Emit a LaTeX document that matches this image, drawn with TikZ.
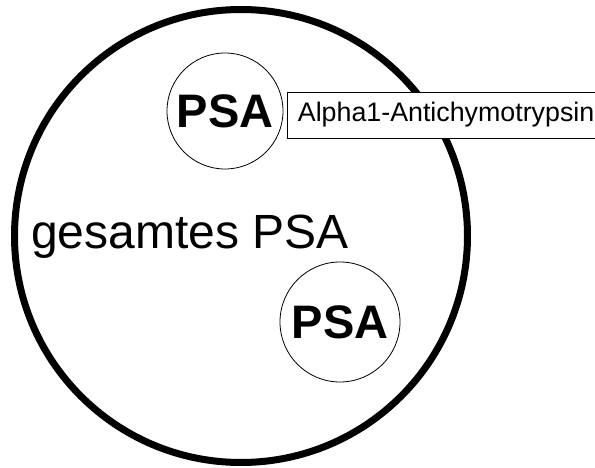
\documentclass[tikz,border=0pt]{standalone}
\usepackage{fontspec}
\setmainfont{Liberation Sans}
\begin{document}
\begin{tikzpicture}[x=1pt,y=-1pt,
  outer/.style={circle,draw=black,line width=7pt,minimum size=453pt,inner sep=0pt},
  psacircle/.style={circle,draw=black,line width=0.8pt,fill=white,inner sep=0pt,
    font=\fontsize{47}{47}\selectfont\bfseries},
  labelbox/.style={draw=black,line width=0.8pt,fill=white,anchor=west,inner xsep=10.5pt,
    minimum height=46pt,font=\fontsize{26.8}{26.8}\selectfont},
  bigtext/.style={font=\fontsize{48}{48}\selectfont,inner sep=0pt}]
\useasboundingbox (0,0) rectangle (595,468);
\clip (0,0) rectangle (595,468);
\node[outer] (total) at (241,236) {};
\node[psacircle,minimum size=116pt] (psa1) at (225,111) {PSA};
\node[psacircle,minimum size=120pt] (psa2) at (340,322) {PSA};
\node[labelbox] (act) at (287,115) {Alpha1-Antichymotrypsin\hspace{12pt}};
\node[bigtext,anchor=base west] (lbl) at (31,248) {gesamtes PSA};
\end{tikzpicture}
\end{document}
